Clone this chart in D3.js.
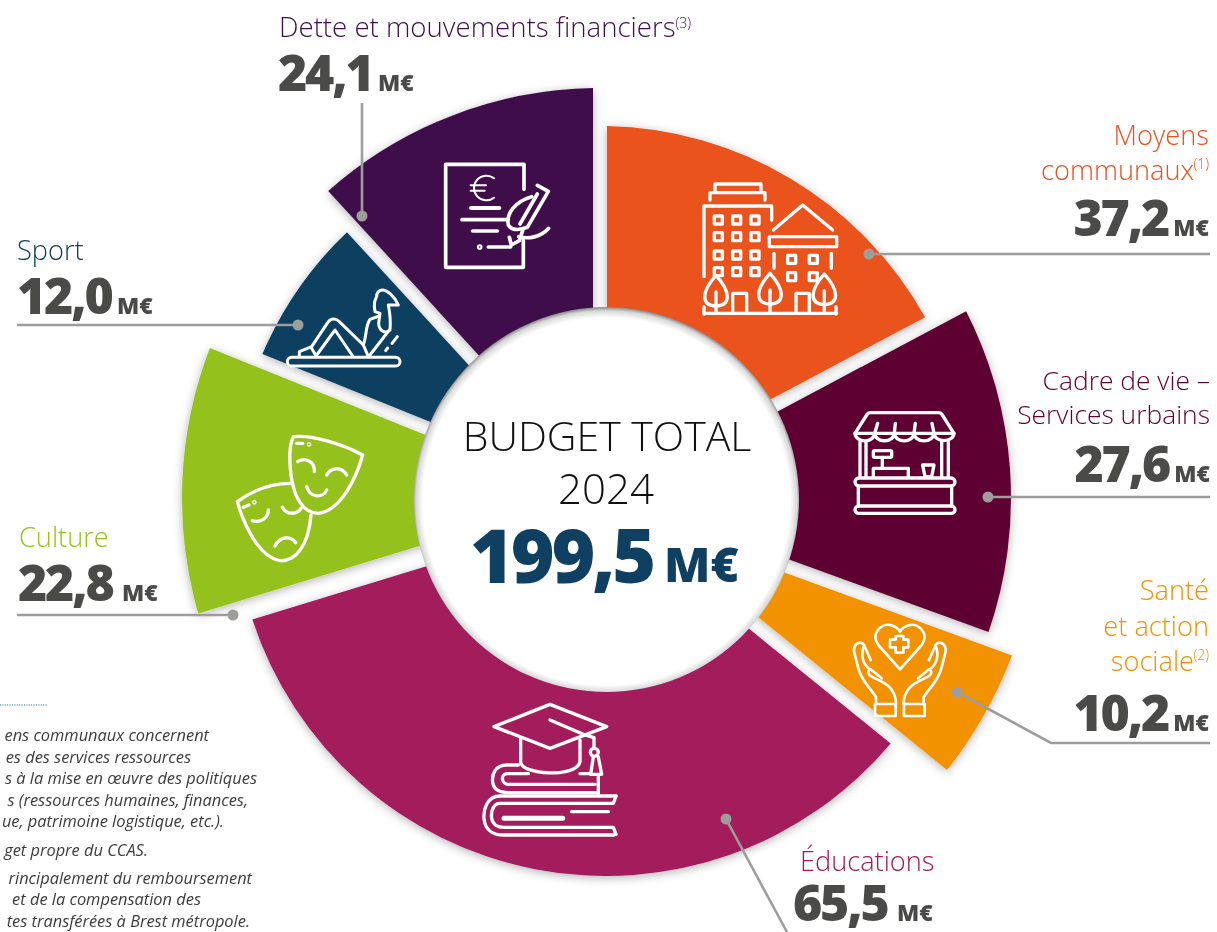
<!DOCTYPE html>
<html lang="fr">
<head>
<meta charset="utf-8">
<title>Budget total 2024</title>
<script src="https://cdn.jsdelivr.net/npm/d3@7"></script>
<style>
html,body{margin:0;padding:0;background:#fff;overflow:hidden}
svg{display:block}
text{font-family:"Open Sans",sans-serif}
.title{font-weight:300;font-size:27.2px}
.sup{font-weight:300;font-size:14px}
.num{font-weight:800;font-size:50px;fill:#4a4a49;letter-spacing:-2.2px}
.unit{font-weight:800;font-size:23px;fill:#4a4a49}
.note{font-style:italic;font-size:16.4px;fill:#3c3c3b}
.icon *{fill:none;stroke:#fff;stroke-linecap:round;stroke-linejoin:round}
</style>
</head>
<body>
<div id="chart"></div>
<script>
// ---- data ----
const categories = ["Moyens communaux","Cadre de vie – Services urbains","Santé et action sociale","Éducations","Culture","Sport","Dette et mouvements financiers"];
const amounts = [37.2,27.6,10.2,65.5,22.8,12.0,24.1];
const sweepDegrees = [62,48,19,124,39,25.5,42.5];
const reach = [372,411,441,372,418,367,410];
const colors = ["#ea521d","#5e0033","#f39200","#a31a5b","#95c11f","#0f3f61","#41104c"];
const totalAmount = 199.5;
const noteLines = [
 ["ens communaux concernent",209,741],["es des services ressources",191,763],
 ["s à la mise en œuvre des politiques",257,784],["s (ressources humaines, finances,",248,806],
 ["ue, patrimoine logistique, etc.).",224,827],["get propre du CCAS.",148,856],
 ["rincipalement du remboursement",252,884],["et de la compensation des",201,905],
 ["tes transférées à Brest métropole.",250,927]];

// ---- layout ----
const W=1217,H=932,cx=600,cy=498;
const shift = [[0,0],[0,0],[0,0],[6,6],[0,0],[0,0],[0,0]];
const labels = [
 {a:"end",x:1209,lines:[["Moyens",145],["communaux",180,"(1)"]],ny:236},
 {a:"end",x:1210,size:26.4,lines:[["Cadre de vie –",390],["Services urbains",424]],ny:482},
 {a:"end",x:1209,lines:[["Santé",600],["et action",636],["sociale",671,"(2)"]],ny:731},
 {a:"start",x:800,nx:793,ux:104,lines:[["Éducations",871]],ny:921},
 {a:"start",x:19,nx:18,ux:104,lines:[["Culture",547]],ny:601},
 {a:"start",x:17,nx:17,ux:100,lines:[["Sport",260]],ny:314},
 {a:"start",x:279,nx:278,ux:100,size:27.6,lines:[["Dette et mouvements financiers",37,"(3)"]],ny:91}
];
const leaders = [
 [[869,254],[1210,254]],
 [[988,497],[1210,497]],
 [[957,692],[1051,743],[1210,743]],
 [[726,819],[788,934]],
 [[233,615],[17,615]],
 [[298,325],[17,325]],
 [[362,216],[362,103]]
];

const svg=d3.select("#chart").append("svg").attr("width",W).attr("height",H).attr("viewBox",[0,0,W,H]);
const defs=svg.append("defs");
const f=defs.append("filter").attr("id","sh").attr("x","-20%").attr("y","-20%").attr("width","140%").attr("height","140%");
f.append("feDropShadow").attr("dx",0).attr("dy",2).attr("stdDeviation",5).attr("flood-color","#000").attr("flood-opacity",.3);
const g=defs.append("radialGradient").attr("id","rim").attr("cx","50%").attr("cy","50.5%").attr("r","50.5%");
[[0,"#fff"],[.945,"#fff"],[.98,"#d8d8d8"],[1,"#858585"]].forEach(([o,c])=>g.append("stop").attr("offset",o).attr("stop-color",c));

// ---- slices ----
const pie=d3.pie().sort(null).value(d=>d.sweep);
const arcs=pie(categories.map((c,i)=>({c,sweep:sweepDegrees[i],r:reach[i],color:colors[i],shift:shift[i]})));
const arc=d3.arc().innerRadius(120).outerRadius(d=>d.data.r).padAngle(.14).padRadius(100);
svg.append("g").attr("transform",`translate(${cx},${cy})`).attr("filter","url(#sh)")
 .selectAll("path").data(arcs).join("path").attr("d",arc).attr("fill",d=>d.data.color).attr("transform",d=>`translate(${d.data.shift})`);

// ---- centre ----
svg.append("circle").attr("cx",606.5).attr("cy",499.5).attr("r",192.5).attr("fill","url(#rim)");
const fr=v=>v.toFixed(1).replace(".",",");
const ctr=svg.append("g");
ctr.append("text").attr("x",607).attr("y",451).attr("text-anchor","middle").attr("font-size",41).attr("font-weight",300).attr("fill","#111").text("BUDGET TOTAL");
ctr.append("text").attr("x",606).attr("y",504).attr("text-anchor","middle").attr("font-size",42).attr("font-weight",300).attr("fill","#111").text("2024");
ctr.append("text").attr("x",653).attr("y",583).attr("text-anchor","end").attr("font-size",75).attr("font-weight",800).attr("fill","#0f3f61").attr("letter-spacing",-3.2).text(fr(totalAmount));
ctr.append("text").attr("x",664).attr("y",582).attr("font-size",48).attr("font-weight",800).attr("fill","#0f3f61").text("M€");

// ---- leaders ----
const line=d3.line();
const lg=svg.append("g");
lg.selectAll("path").data(leaders).join("path").attr("d",line).attr("fill","none").attr("stroke","#9d9d9c").attr("stroke-width",2.6);
lg.selectAll("circle").data(leaders).join("circle").attr("cx",d=>d[0][0]).attr("cy",d=>d[0][1]).attr("r",5.5).attr("fill","#9d9d9c");

// ---- labels ----
labels.forEach((l,i)=>{
 const t=svg.append("g");
 const title=(x,y,a,s)=>{const e=t.append("text").attr("class","title").attr("x",x).attr("y",y).attr("text-anchor",a).attr("fill",colors[i]).text(s);if(l.size)e.style("font-size",l.size+"px");return e;};
 l.lines.forEach(([s,y,sup])=>{
  if(sup&&l.a==="end"){
   t.append("text").attr("class","sup").attr("x",l.x).attr("y",y-11).attr("text-anchor","end").attr("fill",colors[i]).text(sup);
   title(l.x-15,y,"end",s);
  } else {
   const e=title(l.x,y,l.a,s);
   if(sup){const b=e.node().getComputedTextLength();
    t.append("text").attr("class","sup").attr("x",l.x+b).attr("y",y-9).attr("fill",colors[i]).text(sup);}
  }
 });
 if(l.a==="end"){
  t.append("text").attr("class","unit").attr("x",l.x).attr("y",l.ny).attr("text-anchor","end").text("M€");
  t.append("text").attr("class","num").attr("x",l.x-41).attr("y",l.ny).attr("text-anchor","end").text(fr(amounts[i]));
 } else {
  t.append("text").attr("class","num").attr("x",l.nx).attr("y",l.ny).text(fr(amounts[i]));
  t.append("text").attr("class","unit").attr("x",l.nx+l.ux).attr("y",l.ny).text("M€");
 }
});

// ---- footnotes ----
svg.append("line").attr("x1",0).attr("x2",47).attr("y1",705).attr("y2",705).attr("stroke","#0f5c8c").attr("stroke-width",1.2).attr("stroke-dasharray","1 1.4");
svg.append("g").selectAll("text").data(noteLines).join("text").attr("class","note").attr("x",d=>d[1]).attr("y",d=>d[2]).attr("text-anchor","end").text(d=>d[0]);

// ---- pictograms, traced in 3x crop units ----
function icon(ox,oy,sw,build){const n=svg.append("g").attr("class","icon").attr("transform",`translate(${ox},${oy}) scale(${1/3})`).attr("stroke-width",sw);
 build(n);}
const P=(n,d,sw)=>{const p=n.append("path").attr("d",d);if(sw)p.attr("stroke-width",sw);return p;};
const R=(n,x,y,w,h,rx,sw)=>{const p=n.append("rect").attr("x",x).attr("y",y).attr("width",w).attr("height",h).attr("rx",rx||0);if(sw)p.attr("stroke-width",sw);return p;};
const C=(n,x,y,r,sw)=>{const p=n.append("circle").attr("cx",x).attr("cy",y).attr("r",r);if(sw)p.attr("stroke-width",sw);return p;};

// Dette
icon(420,150,11,n=>{
 P(n,"M312,118V43H77V352H310V272");
 P(n,"M222,85A37,37 0 1 0 222,143",6);P(n,"M152,106H198M152,122H194",6);
 P(n,"M153,174H238",12);P(n,"M126,209H262");P(n,"M158,243H232");P(n,"M205,291H272");C(n,179,291,3);
 P(n,"M352,106L385,124L322,232C300,240 275,242 265,225C258,190 285,155 335,140");
 P(n,"M300,222L352,132");
 P(n,"M268,262L274,285L298,272L308,242");
 P(n,"M296,260C325,268 362,262 386,235");
});
// Moyens
icon(690,170,10,n=>{
 P(n,"M75,65V42H213V65M60,90V68H225V90");
 P(n,"M42,320V108H245V150");
 [85,140,195].forEach(x=>[150,200,255,305].forEach(y=>R(n,x-12,y-12,24,24)));
 P(n,"M250,180L338,105L428,180");
 R(n,238,200,202,30);
 P(n,"M252,250V295M424,250V295");
 [[305,268],[370,268],[305,320],[370,320]].forEach(([x,y])=>R(n,x-12,y-12,24,24));
 [[78,316],[240,310],[403,312]].forEach(([x,y])=>{
  P(n,`M${x},${y}C${x-45},${y+50} ${x-45},${y+90} ${x},${y+92}C${x+45},${y+90} ${x+45},${y+50} ${x},${y}Z`).style("fill","#ea521d");
  P(n,`M${x},${y+50}V430`);
 });
 P(n,"M128,430V370H170V430M318,430V370H358V430");
 P(n,"M42,430H440M42,410V432M438,410V432");
});
// Cadre de vie
icon(840,400,10,n=>{
 P(n,"M45,100L82,42Q85,38 92,38H295Q302,38 305,42L342,100Z");
 P(n,"M45,100a29,22 0 0 0 59,0a29,22 0 0 0 59,0a29,22 0 0 0 59,0a29,22 0 0 0 60,0a30,22 0 0 0 60,0");
 P(n,"M113,70L104,100M166,70L163,100M226,70L222,100M276,70L282,100");
 P(n,"M60,125V232M78,125V232M305,125V232M325,125V232");
 R(n,45,234,300,24,12);P(n,"M55,258V318M335,258V318");R(n,45,318,300,22,11);
 R(n,100,152,55,20,4);P(n,"M127,172V205M100,230V205H205V230");
 P(n,"M248,195H282L275,230H255Z");
});
// Santé
const hand=n=>{
 P(n,"M108,282V262C95,238 65,215 55,175L42,125C40,100 62,90 72,105L92,150");
 P(n,"M70,112C62,140 70,165 90,178C82,185 85,195 95,200L125,215C150,226 168,250 168,282");
 P(n,"M92,178L125,205");
 R(n,105,282,62,36);
};
icon(840,610,8,n=>{
 P(n,"M180,178L115,105C90,70 125,40 150,45C165,48 175,55 180,65C185,55 195,48 210,45C235,40 270,70 245,105Z");
 P(n,"M167,78H190V89H205V112H190V128H167V112H150V89H167Z");
 hand(n);hand(n.append("g").attr("transform","translate(359,0) scale(-1,1)"));
});
// Éducations
icon(470,695,10,n=>{
 P(n,"M72,95L240,28L410,95L240,160Z");
 P(n,"M240,75L340,118L372,128V155");
 P(n,"M152,128V200C152,240 320,250 330,200V135");
 C(n,373,172,12);P(n,"M370,186L362,238H395L385,186");
 P(n,"M145,210H110C75,210 65,240 68,262C72,290 100,293 115,293H385");
 P(n,"M375,268H115C95,268 90,240 110,236H175M330,236H362M385,240V295");
 P(n,"M438,303H90C50,303 40,345 42,370C45,410 75,420 100,420H432");
 P(n,"M438,303L430,325H90C70,325 62,350 65,370C68,390 85,397 100,397H430L438,418");
 P(n,"M415,350H305",10);P(n,"M102,370H278",15).attr("stroke-linecap","butt");
});
// Culture
icon(225,420,10,n=>{
 P(n,"M205,50C260,45 350,70 413,105C395,170 350,270 280,280C240,280 200,240 195,130C193,100 195,70 205,50Z");
 P(n,"M215,70H233");C(n,252,73,2);
 P(n,"M218,125C240,110 270,125 268,155M305,165C320,140 350,140 365,165M245,200C255,235 295,235 305,210");
 P(n,"M195,190C140,190 85,210 37,245C55,310 100,410 165,422C210,425 250,380 258,285");
 P(n,"M55,262L72,255");C(n,88,247,2);
 P(n,"M82,302C105,310 130,295 130,270M172,262C185,285 215,285 228,265M150,378C165,350 195,345 212,368");
});
// Sport
icon(280,280,9,n=>{
 R(n,22,232,338,26,13);
 P(n,"M58,228V215L95,200L145,125C155,113 170,115 178,125L250,195L265,230");
 P(n,"M108,228L165,150L218,228M95,205L108,228");
 P(n,"M250,195C262,160 255,140 270,118L298,108");
 P(n,"M290,50C285,60 280,70 285,95L300,100L296,130C296,150 315,165 330,150C332,130 330,100 325,75L355,75C345,50 320,28 305,30C295,32 290,40 290,50");
 P(n,"M328,150L270,225");
 P(n,"M336,190L352,170M317,212L323,204");
});
</script>
</body>
</html>
